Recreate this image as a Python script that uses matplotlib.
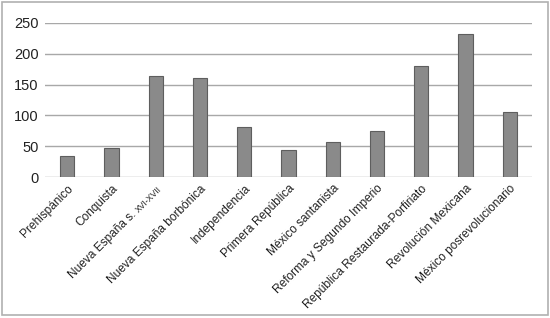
import matplotlib
matplotlib.use('Agg')
from matplotlib import pyplot as plt
from matplotlib.patches import Rectangle
from matplotlib.transforms import offset_copy
import numpy as np

# data
periods = ['Prehispánico', 'Conquista', 'Nueva España s. XVI-XVII',
           'Nueva España borbónica', 'Independencia', 'Primera República',
           'México santanista', 'Reforma y Segundo Imperio',
           'República Restaurada-Porfiriato', 'Revolución Mexicana',
           'México posrevolucionario']
counts = [34, 47, 164, 161, 82, 44, 57, 75, 180, 232, 105]
yticks = [0, 50, 100, 150, 200, 250]

plt.rcParams['font.family'] = ['Liberation Sans', 'DejaVu Sans']
LBL = 8.6
XPAD = 4

fig = plt.figure(figsize=(5.5, 3.18), dpi=100)
ax = fig.add_axes([0.082, 0.443, 0.885, 0.485])

x = list(range(len(periods)))
ax.bar(x, counts, width=0.32, color='#8a8a8a', edgecolor='#5e5e5e',
       linewidth=0.8, zorder=3)

ax.set_xlim(-0.5, len(periods) - 0.5)
ax.set_ylim(0, 250)
ax.set_yticks(yticks)
ax.set_yticklabels([str(v) for v in yticks], fontsize=10.5, color='#222222')
ax.yaxis.grid(True, color='#a8a8a8', linewidth=1.0, zorder=0)
ax.set_axisbelow(True)

# the century label has its "XVI-XVII" in a smaller size, done by hand below
special = 2
labels = [p if i != special else '' for i, p in enumerate(periods)]
ax.set_xticks(x)
ax.set_xticklabels(labels, rotation=45, ha='right', rotation_mode='anchor',
                   fontsize=LBL, color='#222222')
ax.tick_params(axis='both', length=0)
ax.tick_params(axis='y', pad=4.5)
ax.tick_params(axis='x', pad=XPAD)

for s in ax.spines.values():
    s.set_visible(False)

main_txt, small_txt = periods[special].rsplit(' ', 1)
main_txt += ' '
small_size = LBL * 0.72
trans = ax.get_xaxis_transform()

# width of the small part, in points
tmp = fig.text(0, 0, small_txt, fontsize=small_size)
r = fig.canvas.get_renderer()
w = tmp.get_window_extent(r).width * 72 / fig.dpi
tmp.remove()

# baseline anchor: move down the text's "down" direction by the ascent
asc = LBL * 0.78
bx, by = asc / np.sqrt(2), -XPAD - asc / np.sqrt(2)
ax.text(special, 0, small_txt,
        transform=offset_copy(trans, fig=fig, x=bx, y=by, units='points'),
        rotation=45, rotation_mode='anchor', ha='right', va='baseline',
        fontsize=small_size, color='#222222')
d = w / np.sqrt(2)
ax.text(special, 0, main_txt,
        transform=offset_copy(trans, fig=fig, x=bx - d, y=by - d, units='points'),
        rotation=45, rotation_mode='anchor', ha='right', va='baseline',
        fontsize=LBL, color='#222222')

# frame around the whole chart
fig.patches.append(Rectangle((0.004, 0.008), 0.992, 0.985, transform=fig.transFigure,
                             fill=False, edgecolor='#b0b0b0', linewidth=1.2))

fig.savefig('out.png', dpi=100)
